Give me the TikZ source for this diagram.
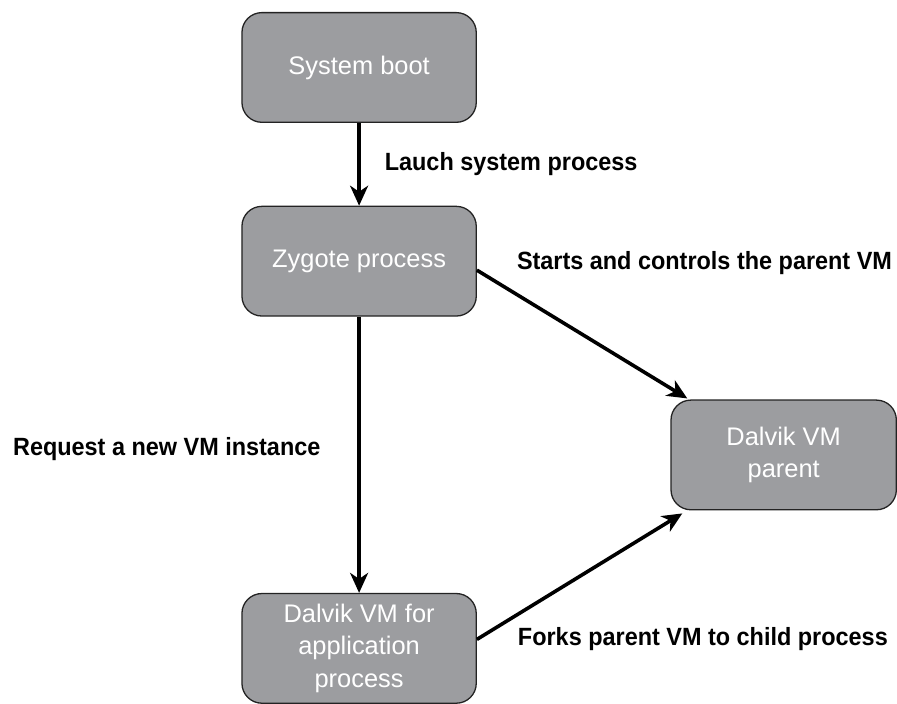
\documentclass[tikz,border=0pt]{standalone}
\usepackage{fontspec}
\setmainfont{Liberation Sans}
\newfontfamily\lblfont[FakeStretch=0.94]{Liberation Sans}
\usetikzlibrary{arrows.meta,positioning}
\definecolor{boxgray}{RGB}{156,157,160}
\definecolor{boxline}{RGB}{35,35,35}

\begin{document}
\begin{tikzpicture}[
    node distance=83pt and 194pt,
    box/.style={draw=boxline, line width=1.3pt, fill=boxgray, rounded corners=20pt, align=center, minimum width=235pt, minimum height=110pt, text=white, font=\fontsize{25.5}{33}\selectfont},
    lbl/.style={font=\lblfont\bfseries\fontsize{25}{30}\selectfont, inner sep=0pt},
    arrow/.style={-{Stealth[length=20pt,width=18pt,inset=6pt]}, line width=3.6pt}
]
% Process chain
\node[box] (boot) {System boot};
\node[box, below=of boot] (zygote) {Zygote process};
\node[box, below=277pt of zygote] (app) {Dalvik VM for\\application\\process};
\node[box, below right=of zygote, minimum width=226pt] (parent) {Dalvik VM\\parent};

% Page frame
\useasboundingbox ([shift={(-242pt,12pt)}]boot.north west) rectangle ++(897pt,-701pt);

% Arrows
\draw[arrow] (boot) -- node[lbl, right=24pt] {Lauch system process} (zygote);
\draw[arrow] (zygote) -- node[lbl, left=37pt, yshift=6pt] {Request a new VM instance} (app);
\draw[arrow] ([yshift=-9pt]zygote.east) -- ([xshift=17pt,yshift=1pt]parent.north west);
\draw[arrow] ([yshift=9pt]app.east) -- ([xshift=12pt,yshift=-3pt]parent.south west);

% Labels
\node[lbl, right=40pt of zygote.east, yshift=-2pt] {Starts and controls the parent VM};
\node[lbl, right=41pt of app.east, yshift=9pt] {Forks parent VM to child process};
\end{tikzpicture}
\end{document}
